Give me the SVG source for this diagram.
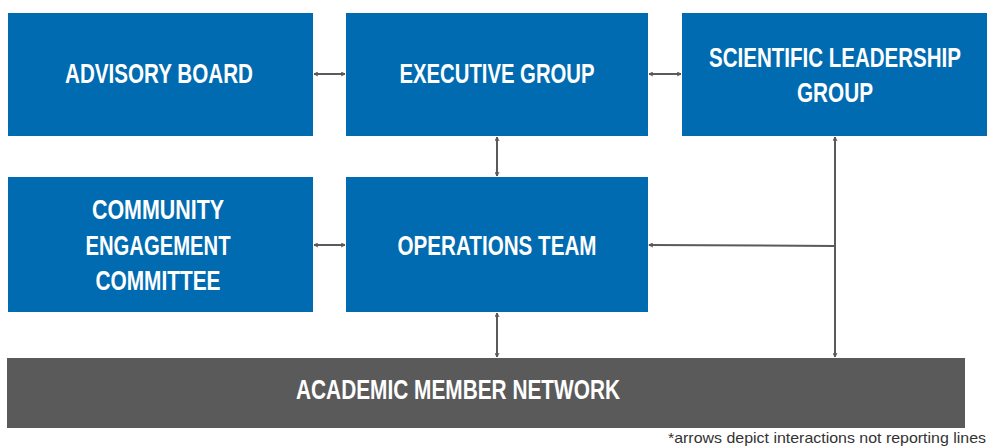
<svg xmlns="http://www.w3.org/2000/svg" width="987" height="446" viewBox="0 0 987 446">
<style>
.box{fill:#006bb0}
.gray{fill:#5a5a5a}
.lbl{font-family:"Liberation Sans Narrow","Liberation Sans",Arial,sans-serif;font-weight:bold;font-size:28px;fill:#ffffff;text-anchor:middle}
.conn{stroke:#5a5a5a;stroke-width:2;fill:none}
.note{font-family:"Liberation Sans",Arial,sans-serif;font-size:15px;fill:#333333}
</style>
<defs>
<marker id="ah" viewBox="0 0 10 10" refX="9" refY="5" markerWidth="5" markerHeight="5" orient="auto-start-reverse" markerUnits="userSpaceOnUse">
<path d="M1,1 L9,5 L1,9" fill="none" stroke="#5a5a5a" stroke-width="2"/>
</marker>
</defs>
<rect width="987" height="446" fill="#ffffff"/>
<g id="advisory-board">
<rect class="box" x="8" y="13" width="305" height="123"/>
<text class="lbl" x="159" y="83" textLength="188" lengthAdjust="spacingAndGlyphs">ADVISORY BOARD</text>
</g>
<g id="executive-group">
<rect class="box" x="346" y="13" width="302" height="123"/>
<text class="lbl" x="497" y="83" textLength="195" lengthAdjust="spacingAndGlyphs">EXECUTIVE GROUP</text>
</g>
<g id="scientific-leadership-group">
<rect class="box" x="682" y="13" width="305" height="123"/>
<text class="lbl" transform="translate(835,67) scale(0.75,1)" x="0" y="0" textLength="336" lengthAdjust="spacingAndGlyphs">SCIENTIFIC LEADERSHIP</text>
<text class="lbl" x="835" y="102" textLength="76" lengthAdjust="spacingAndGlyphs">GROUP</text>
</g>
<g id="community-engagement-committee">
<rect class="box" x="8" y="177" width="305" height="135"/>
<text class="lbl" x="158" y="219" textLength="132" lengthAdjust="spacingAndGlyphs">COMMUNITY</text>
<text class="lbl" x="158" y="255" textLength="145" lengthAdjust="spacingAndGlyphs">ENGAGEMENT</text>
<text class="lbl" x="158" y="290" textLength="125" lengthAdjust="spacingAndGlyphs">COMMITTEE</text>
</g>
<g id="operations-team">
<rect class="box" x="346" y="177" width="302" height="135"/>
<text class="lbl" x="497" y="255" textLength="199" lengthAdjust="spacingAndGlyphs">OPERATIONS TEAM</text>
</g>
<g id="academic-member-network">
<rect class="gray" x="7" y="358" width="958" height="70"/>
<text class="lbl" x="458" y="399" textLength="324" lengthAdjust="spacingAndGlyphs">ACADEMIC MEMBER NETWORK</text>
</g>
<g id="connectors">
<line class="conn" x1="314" y1="74" x2="345" y2="74" marker-start="url(#ah)" marker-end="url(#ah)"/>
<line class="conn" x1="649" y1="74" x2="681" y2="74" marker-start="url(#ah)" marker-end="url(#ah)"/>
<line class="conn" x1="497" y1="137" x2="497" y2="176" marker-start="url(#ah)" marker-end="url(#ah)"/>
<line class="conn" x1="314" y1="245" x2="345" y2="245" marker-start="url(#ah)" marker-end="url(#ah)"/>
<line class="conn" x1="497" y1="313" x2="497" y2="357" marker-start="url(#ah)" marker-end="url(#ah)"/>
<line class="conn" x1="835" y1="137" x2="835" y2="357" marker-start="url(#ah)" marker-end="url(#ah)"/>
<line class="conn" x1="835" y1="246" x2="649" y2="245" marker-end="url(#ah)"/>
</g>
<text class="note" x="668" y="443" textLength="318" lengthAdjust="spacingAndGlyphs">*arrows depict interactions not reporting lines</text>
</svg>
